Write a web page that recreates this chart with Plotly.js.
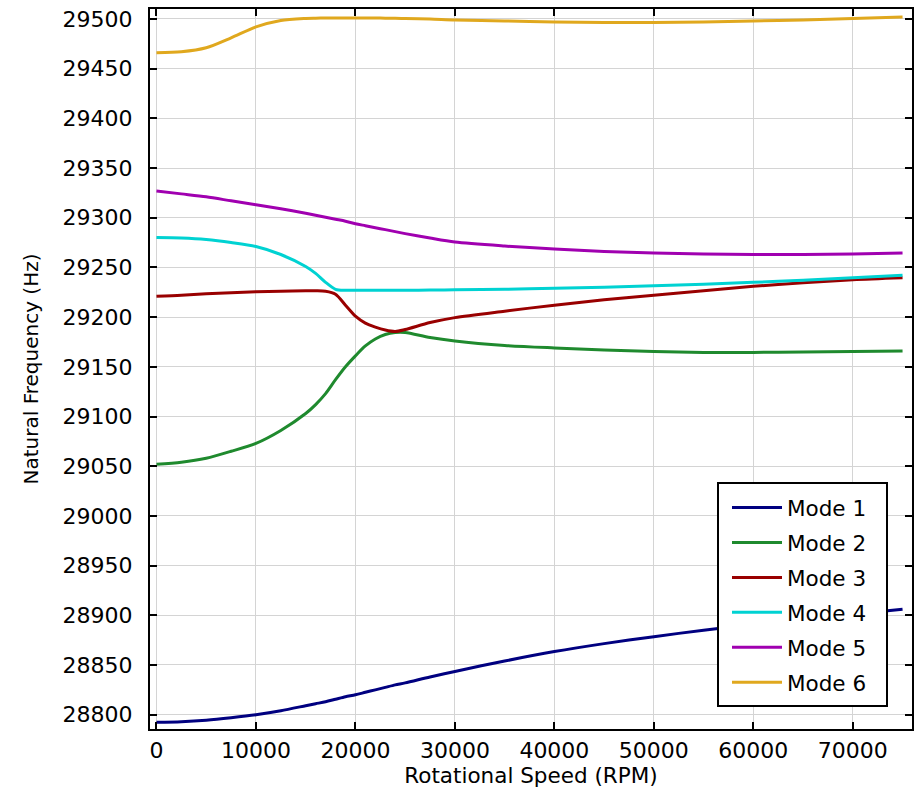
<!DOCTYPE html>
<html>
<head>
<meta charset="utf-8">
<script src="https://cdn.plot.ly/plotly-3.0.1.min.js"></script>
<style>html,body{margin:0;padding:0;background:#fff;}#chart{width:917px;height:792px;}</style>
</head>
<body>
<div id="chart"></div>
<script>
const rpm = [0, 2500, 5000, 7500, 10000, 12500, 15000, 16000, 17000, 18000, 19000, 20000, 21000, 22000, 23000, 24000, 25000, 27500, 30000, 35000, 40000, 45000, 50000, 55000, 60000, 65000, 70000, 75000];

const mode1 = [28792.5, 28793, 28794.5, 28797, 28800, 28804, 28809, 28811, 28813, 28815.5, 28818, 28820, 28822.5, 28825, 28827.5, 28830, 28832, 28838, 28843.5, 28854, 28863.5, 28871.5, 28878.5, 28885, 28891, 28896, 28901, 28906];
const mode2 = [29052, 29054, 29058, 29065, 29073, 29086, 29103, 29112, 29123, 29137, 29150, 29161, 29171, 29178, 29182.5, 29184.5, 29184.5, 29179.5, 29176, 29171.5, 29169, 29167, 29165.5, 29164.5, 29164.5, 29165, 29165.5, 29166];
const mode3 = [29221, 29222, 29223.5, 29224.5, 29225.5, 29226, 29226.5, 29226.5, 29226, 29223, 29212, 29201, 29194, 29190, 29187, 29185.5, 29187.5, 29194.5, 29199.5, 29206, 29212, 29217.5, 29222, 29226.5, 29231, 29234.5, 29237.5, 29239.5];
const mode4 = [29280, 29279.5, 29278, 29275, 29271, 29263, 29251, 29244, 29235, 29228, 29227, 29227, 29227, 29227, 29227, 29227, 29227, 29227.2, 29227.5, 29228, 29229, 29230, 29231.5, 29233, 29235, 29237, 29239.5, 29242];
const mode5 = [29327, 29324, 29321, 29317, 29313, 29309, 29304.5, 29302.5, 29300.5, 29298.5, 29296.5, 29294, 29292, 29290, 29288, 29286, 29284, 29279.5, 29275.5, 29271.5, 29268.5, 29266, 29264.5, 29263.5, 29263, 29263, 29263.5, 29264.5];
const mode6 = [29466, 29467, 29471, 29481, 29492, 29498.5, 29500.5, 29500.8, 29501, 29501, 29501, 29501, 29501, 29501, 29500.8, 29500.6, 29500.5, 29500, 29499, 29498, 29497, 29496.5, 29496.5, 29497, 29498, 29499, 29500.5, 29502];

const names = ["Mode 1", "Mode 2", "Mode 3", "Mode 4", "Mode 5", "Mode 6"];
const colors = ["#000080", "#1f8a2e", "#990000", "#00d2d2", "#a000b0", "#e0a81e"];
const series = [mode1, mode2, mode3, mode4, mode5, mode6];

const FONT = "DejaVu Sans, Verdana, sans-serif";

const traces = series.map((s, i) => ({
  x: rpm, y: s, name: names[i], type: "scatter", mode: "lines",
  legendgroup: "g" + i,
  line: {color: colors[i], width: 3, shape: "spline", smoothing: 0.8}
}));

const axisCommon = {
  showline: true, linecolor: "#000", linewidth: 2, mirror: "ticks",
  ticks: "inside", ticklen: 7, tickwidth: 2, tickcolor: "#000",
  showgrid: true, gridcolor: "#d4d4d4", gridwidth: 1, zeroline: false,
  tickformat: "d",
  tickfont: {family: FONT, size: 22, color: "#000"}
};

const layout = {
  width: 917, height: 792,
  margin: {l: 150, r: 5, t: 9, b: 63},
  paper_bgcolor: "#fff", plot_bgcolor: "#fff",
  showlegend: true,
  xaxis: Object.assign({}, axisCommon, {
    range: [-650, 75950], dtick: 10000, tick0: 0,
    ticklabelstandoff: 1,
    title: {text: "Rotational Speed (RPM)", font: {family: FONT, size: 21.5, color: "#000"}, standoff: 5}
  }),
  yaxis: Object.assign({}, axisCommon, {
    range: [28785.6, 29510], dtick: 50, tick0: 28800,
    ticklabelstandoff: 11,
    title: {text: "Natural Frequency (Hz)", font: {family: FONT, size: 20, color: "#000"}, standoff: 19}
  }),
  shapes: [{
    type: "rect", xref: "paper", yref: "paper", layer: "above",
    x0: (718 - 150) / 762, x1: (887 - 150) / 762,
    y0: (729 - 706) / 720, y1: (729 - 483) / 720,
    line: {color: "#000", width: 2}, fillcolor: "#fff"
  }],
  legend: {
    x: (727 - 150) / 762, xanchor: "left", y: (729 - 487) / 720, yanchor: "top",
    bgcolor: "rgba(0,0,0,0)", borderwidth: 0,
    font: {family: FONT, size: 21.5, color: "#000"},
    traceorder: "grouped", tracegroupgap: 4, itemwidth: 50
  }
};

Plotly.newPlot("chart", traces, layout, {displayModeBar: false, staticPlot: true});
</script>
</body>
</html>
